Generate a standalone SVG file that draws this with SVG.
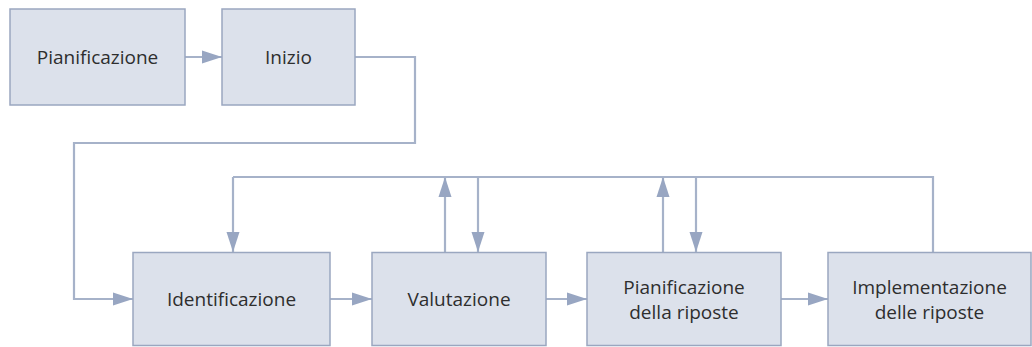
<svg xmlns="http://www.w3.org/2000/svg" width="1032" height="347" viewBox="0 0 1032 347">
  <defs>
    <marker id="arrow" markerUnits="userSpaceOnUse" markerWidth="20" markerHeight="14" refX="20" refY="7" orient="auto">
      <path d="M0,0.5 L20,7 L0,13.5 Z" fill="#98a6c2"/>
    </marker>
    <style>
      .box { fill: #dce1eb; stroke: #9aa7c0; stroke-width: 1.5; }
      .lbl { font-family: "Open Sans", "Liberation Sans", sans-serif; font-size: 19px; fill: #2e2e2e; text-anchor: middle; }
      .edge { fill: none; stroke: #a6b2c9; stroke-width: 2.2; }
      .edge2 { fill: none; stroke: #a6b2c9; stroke-width: 2.2; marker-end: url(#arrow); }
    </style>
  </defs>
  <rect width="1032" height="347" fill="#ffffff"/>

  <g id="connectors">
    <path class="edge2" d="M185,57 L222,57"/>
    <path class="edge2" d="M355,57 L415,57 L415,143 L74,143 L74,299 L133,299"/>
    <path class="edge2" d="M330,299 L372,299"/>
    <path class="edge2" d="M546,299 L587,299"/>
    <path class="edge2" d="M781,299 L828,299"/>
    <!-- feedback loop -->
    <path class="edge" d="M933,252 L933,177 L233,177"/>
    <path class="edge2" d="M233,177 L233,252"/>
    <path class="edge2" d="M445,252 L445,177"/>
    <path class="edge2" d="M478,177 L478,252"/>
    <path class="edge2" d="M663,252 L663,177"/>
    <path class="edge2" d="M696,177 L696,252"/>
  </g>

  <g id="node-pianificazione">
    <rect class="box" x="10" y="9" width="175" height="96"/>
    <text class="lbl" x="97.5" y="64">Pianificazione</text>
  </g>
  <g id="node-inizio">
    <rect class="box" x="222" y="9" width="133" height="96"/>
    <text class="lbl" x="288.5" y="64">Inizio</text>
  </g>
  <g id="node-identificazione">
    <rect class="box" x="133" y="252.5" width="197" height="93"/>
    <text class="lbl" x="231.5" y="306">Identificazione</text>
  </g>
  <g id="node-valutazione">
    <rect class="box" x="372" y="252.5" width="174" height="93"/>
    <text class="lbl" x="459" y="306">Valutazione</text>
  </g>
  <g id="node-pianificazione-riposte">
    <rect class="box" x="587" y="252.5" width="194" height="93"/>
    <text class="lbl" x="684" y="294">Pianificazione</text>
    <text class="lbl" x="684" y="319">della riposte</text>
  </g>
  <g id="node-implementazione">
    <rect class="box" x="828" y="252.5" width="203" height="93"/>
    <text class="lbl" x="929.5" y="294">Implementazione</text>
    <text class="lbl" x="929.5" y="319">delle riposte</text>
  </g>
</svg>
